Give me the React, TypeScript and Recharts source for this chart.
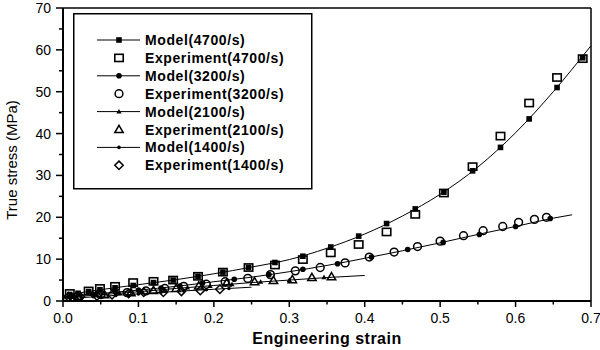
import React from "react";
import {
  ComposedChart,
  Line,
  Scatter,
  XAxis,
  YAxis,
  ReferenceLine,
  Legend,
} from "recharts";

// model curves, [strain, stress]
const model4700Line = [
  [0, 1.3], [0.05, 2.7], [0.1, 3.9], [0.15, 5.1], [0.2, 6.5], [0.25, 8.1], [0.3, 9.9],
  [0.35, 12.6], [0.4, 16.0], [0.45, 20.3], [0.5, 25.5], [0.55, 32.0], [0.6, 40.2],
  [0.65, 50.0], [0.7, 61.0],
];
const model3200Line = [
  [0, 1.0], [0.05, 1.8], [0.1, 2.6], [0.15, 3.5], [0.2, 4.6], [0.25, 5.7], [0.3, 7.0],
  [0.35, 8.5], [0.4, 10.2], [0.45, 12.0], [0.5, 13.9], [0.55, 15.9], [0.6, 17.8],
  [0.65, 19.8], [0.675, 20.6],
];
const model2100Line = [
  [0, 0.8], [0.05, 1.5], [0.1, 2.2], [0.15, 3.0], [0.2, 3.7], [0.25, 4.4], [0.3, 5.0],
  [0.35, 5.6], [0.4, 6.1],
];
const model1400Line = [
  [0, 0.5], [0.05, 1.1], [0.1, 1.7], [0.15, 2.3], [0.2, 2.8], [0.25, 3.3],
];

// model markers
const model4700Strain = [0.009, 0.02, 0.034, 0.049, 0.069, 0.093, 0.12, 0.146, 0.179, 0.212, 0.246, 0.281, 0.318, 0.355, 0.392, 0.429, 0.467, 0.505, 0.543, 0.58, 0.618, 0.655, 0.689];
const model4700Stress = [1.55, 1.85, 2.25, 2.7, 3.15, 3.7, 4.4, 5.0, 5.9, 6.9, 8.0, 9.2, 10.7, 12.9, 15.5, 18.5, 22.0, 26.0, 31.1, 36.7, 43.5, 51.0, 58.1];
const model3200Strain = [0.012, 0.04, 0.07, 0.1, 0.13, 0.155, 0.185, 0.227, 0.273, 0.318, 0.364, 0.409, 0.457, 0.504, 0.552, 0.6, 0.646];
const model3200Stress = [1.2, 1.6, 2.1, 2.6, 3.1, 3.6, 4.3, 5.2, 6.3, 7.6, 8.9, 10.5, 12.3, 14.0, 15.9, 17.8, 19.7];
const model2100Strain = [0.015, 0.045, 0.075, 0.105, 0.135, 0.165, 0.195, 0.224, 0.262, 0.3, 0.346];
const model2100Stress = [1.0, 1.4, 1.9, 2.3, 2.7, 3.2, 3.6, 4.0, 4.6, 5.0, 5.7];
const model1400Strain = [0.01, 0.04, 0.07, 0.1, 0.13, 0.16, 0.19, 0.22];
const model1400Stress = [0.6, 1.0, 1.3, 1.7, 2.1, 2.4, 2.7, 3.0];

// experiments
const exp4700Strain = [0.009, 0.034, 0.049, 0.069, 0.093, 0.12, 0.146, 0.179, 0.212, 0.246, 0.281, 0.318, 0.355, 0.392, 0.429, 0.467, 0.505, 0.543, 0.58, 0.618, 0.655, 0.689];
const exp4700Stress = [1.8, 2.4, 3.0, 3.5, 4.4, 4.7, 5.0, 5.9, 6.9, 8.0, 8.6, 9.9, 11.5, 13.5, 16.5, 20.7, 25.8, 32.1, 39.4, 47.3, 53.4, 57.9];
const exp3200Strain = [0.02, 0.05, 0.085, 0.11, 0.135, 0.16, 0.19, 0.215, 0.245, 0.275, 0.308, 0.341, 0.374, 0.406, 0.439, 0.47, 0.5, 0.531, 0.557, 0.583, 0.604, 0.625, 0.641];
const exp3200Stress = [1.2, 1.5, 2.0, 2.4, 3.0, 3.5, 4.0, 4.6, 5.4, 6.3, 7.2, 8.0, 9.1, 10.5, 11.7, 13.0, 14.3, 15.6, 16.8, 17.8, 18.8, 19.5, 20.0];
const exp2100Strain = [0.02, 0.055, 0.09, 0.12, 0.15, 0.18, 0.217, 0.254, 0.279, 0.304, 0.33, 0.356];
const exp2100Stress = [1.0, 1.5, 2.0, 2.5, 3.0, 3.6, 4.3, 4.6, 4.9, 5.1, 5.6, 5.8];
const exp1400Strain = [0.007, 0.023, 0.045, 0.065, 0.087, 0.107, 0.133, 0.157, 0.182, 0.208];
const exp1400Stress = [1.0, 1.0, 1.2, 1.5, 1.8, 2.1, 2.1, 2.3, 2.5, 2.8];

const xTicks = [0, 0.05, 0.1, 0.15, 0.2, 0.25, 0.3, 0.35, 0.4, 0.45, 0.5, 0.55, 0.6, 0.65, 0.7];
const yTicks = [0, 5, 10, 15, 20, 25, 30, 35, 40, 45, 50, 55, 60, 65, 70];

const legendItems = [
  { name: "Model(4700/s)", kind: "fsquare", line: true },
  { name: "Experiment(4700/s)", kind: "osquare", line: false },
  { name: "Model(3200/s)", kind: "fcircle", line: true },
  { name: "Experiment(3200/s)", kind: "ocircle", line: false },
  { name: "Model(2100/s)", kind: "ftri", line: true },
  { name: "Experiment(2100/s)", kind: "otri", line: false },
  { name: "Model(1400/s)", kind: "fdot", line: true },
  { name: "Experiment(1400/s)", kind: "odiamond", line: false },
];

const FONT = "'Liberation Sans', Arial, sans-serif";

const pairs = (arr: number[][]) => arr.map(([x, y]) => ({ x, y }));
const zip = (xs: number[], ys: number[]) => xs.map((x, i) => ({ x, y: ys[i] }));

function Mark({ kind, cx, cy }: { kind: string; cx: number; cy: number }) {
  const s = "#000";
  switch (kind) {
    case "fsquare":
      return <rect x={cx - 2.8} y={cy - 2.8} width={5.6} height={5.6} fill={s} />;
    case "osquare":
      return <rect x={cx - 4.2} y={cy - 3.6} width={8.4} height={7.2} fill="none" stroke={s} strokeWidth={1.6} />;
    case "fcircle":
      return <circle cx={cx} cy={cy} r={2.8} fill={s} />;
    case "ocircle":
      return <circle cx={cx} cy={cy} r={3.9} fill="none" stroke={s} strokeWidth={1.5} />;
    case "ftri":
      return <path d={`M${cx},${cy - 2.6}L${cx + 2.6},${cy + 2}L${cx - 2.6},${cy + 2}Z`} fill={s} />;
    case "otri":
      return <path d={`M${cx},${cy - 4.2}L${cx + 4.2},${cy + 3}L${cx - 4.2},${cy + 3}Z`} fill="none" stroke={s} strokeWidth={1.5} />;
    case "fdot":
      return <circle cx={cx} cy={cy} r={1.8} fill={s} />;
    case "odiamond":
      return <path d={`M${cx},${cy - 4.2}L${cx + 4.2},${cy}L${cx},${cy + 4.2}L${cx - 4.2},${cy}Z`} fill="none" stroke={s} strokeWidth={1.5} />;
    default:
      return null;
  }
}

const shapeOf = (kind: string) => (p: any) => <Mark kind={kind} cx={p.cx} cy={p.cy} />;

const XTick = ({ x, y, payload }: any) => {
  const v = payload.value;
  const major = Math.abs(v * 10 - Math.round(v * 10)) < 1e-6;
  return (
    <g>
      <line x1={x} x2={x} y1={y} y2={y + (major ? 6 : 3.5)} stroke="#000" strokeWidth={1.5} />
      {major && (
        <text x={x} y={y + 22} textAnchor="middle" fontSize={14} fontFamily={FONT} fill="#000">
          {v.toFixed(1)}
        </text>
      )}
    </g>
  );
};

const YTick = ({ x, y, payload }: any) => {
  const v = payload.value;
  const major = v % 10 === 0;
  return (
    <g>
      <line x1={x} x2={x - (major ? 7 : 4)} y1={y} y2={y} stroke="#000" strokeWidth={1.5} />
      {major && (
        <text x={x - 12} y={y + 5} textAnchor="end" fontSize={14} fontFamily={FONT} fill="#000">
          {v}
        </text>
      )}
    </g>
  );
};

const LegendBox = () => (
  <svg width={240} height={177} style={{ display: "block" }}>
    <rect x={0.75} y={0.75} width={238} height={175} fill="#fff" stroke="#000" strokeWidth={1.5} />
    {legendItems.map((it, i) => {
      const cy = 27 + i * 17.9;
      return (
        <g key={it.name}>
          {it.line && <line x1={24} x2={67} y1={cy} y2={cy} stroke="#000" strokeWidth={1} />}
          <Mark kind={it.kind} cx={46} cy={cy} />
          <text x={72} y={cy + 5} fontSize={14} fontWeight="bold" letterSpacing={0.6} fontFamily={FONT} fill="#000">
            {it.name}
          </text>
        </g>
      );
    })}
  </svg>
);

export default function App() {
  return (
    <div style={{ position: "absolute", left: 0, top: 0, background: "#fff" }}>
      <ComposedChart width={600} height={350} margin={{ top: 8, right: 9, left: 0, bottom: 0 }}>
        <XAxis
          dataKey="x"
          type="number"
          domain={[0, 0.7]}
          ticks={xTicks}
          interval={0}
          height={49}
          tickSize={0}
          tickMargin={0}
          tickLine={false}
          tick={<XTick />}
          axisLine={{ stroke: "#000", strokeWidth: 2 }}
          allowDataOverflow
          label={(p: any) => {
            const vb = p.viewBox;
            return (
              <text x={vb.x + vb.width / 2} y={344} textAnchor="middle" fontSize={16} fontWeight="bold" letterSpacing={0.5} fontFamily={FONT} fill="#000">
                Engineering strain
              </text>
            );
          }}
        />
        <YAxis
          type="number"
          domain={[0, 70]}
          ticks={yTicks}
          interval={0}
          width={63}
          tickSize={0}
          tickMargin={0}
          tickLine={false}
          tick={<YTick />}
          axisLine={{ stroke: "#000", strokeWidth: 2 }}
          allowDataOverflow
          label={() => (
            <text x={11} y={160} transform="rotate(-90 11 160)" textAnchor="middle" dominantBaseline="central" fontSize={15} fontFamily={FONT} fill="#000">
              True stress (MPa)
            </text>
          )}
        />
        <ReferenceLine y={70} stroke="#000" strokeWidth={1.5} />
        <ReferenceLine x={0.7} stroke="#000" strokeWidth={1.5} />
        <Legend
          layout="vertical"
          align="center"
          verticalAlign="middle"
          content={() => <LegendBox />}
          wrapperStyle={{ left: 73, top: 13, width: 240, height: 177 }}
        />

        <Line data={pairs(model4700Line)} dataKey="y" type="monotone" stroke="#000" strokeWidth={1} dot={false} activeDot={false} isAnimationActive={false} legendType="none" />
        <Line data={pairs(model3200Line)} dataKey="y" type="monotone" stroke="#000" strokeWidth={1} dot={false} activeDot={false} isAnimationActive={false} legendType="none" />
        <Line data={pairs(model2100Line)} dataKey="y" type="monotone" stroke="#000" strokeWidth={1} dot={false} activeDot={false} isAnimationActive={false} legendType="none" />
        <Line data={pairs(model1400Line)} dataKey="y" type="monotone" stroke="#000" strokeWidth={1} dot={false} activeDot={false} isAnimationActive={false} legendType="none" />

        <Scatter data={zip(exp1400Strain, exp1400Stress)} dataKey="y" shape={shapeOf("odiamond")} isAnimationActive={false} />
        <Scatter data={zip(exp2100Strain, exp2100Stress)} dataKey="y" shape={shapeOf("otri")} isAnimationActive={false} />
        <Scatter data={zip(exp3200Strain, exp3200Stress)} dataKey="y" shape={shapeOf("ocircle")} isAnimationActive={false} />
        <Scatter data={zip(exp4700Strain, exp4700Stress)} dataKey="y" shape={shapeOf("osquare")} isAnimationActive={false} />
        <Scatter data={zip(model1400Strain, model1400Stress)} dataKey="y" shape={shapeOf("fdot")} isAnimationActive={false} />
        <Scatter data={zip(model2100Strain, model2100Stress)} dataKey="y" shape={shapeOf("ftri")} isAnimationActive={false} />
        <Scatter data={zip(model3200Strain, model3200Stress)} dataKey="y" shape={shapeOf("fcircle")} isAnimationActive={false} />
        <Scatter data={zip(model4700Strain, model4700Stress)} dataKey="y" shape={shapeOf("fsquare")} isAnimationActive={false} />
      </ComposedChart>
    </div>
  );
}
